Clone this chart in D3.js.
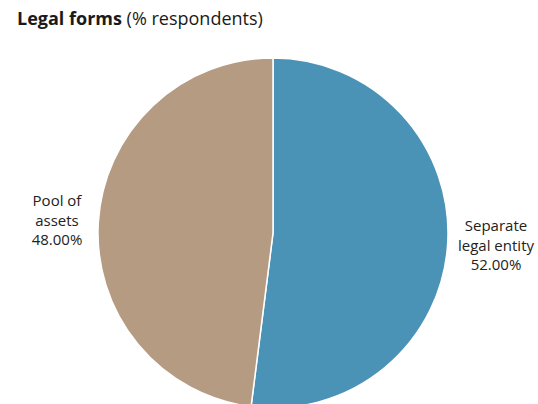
<!DOCTYPE html>
<html><head><meta charset="utf-8">
<script src="https://cdn.jsdelivr.net/npm/d3@7"></script>
<style>body{margin:0;background:#fff;}svg{display:block;}</style>
</head><body>
<script>
const categories = ["Separate legal entity", "Pool of assets"];
const values = [52.00, 48.00];
const labelLines = [["Separate", "legal entity"], ["Pool of", "assets"]];
const colors = ["#4b92b7", "#b69b83"];

const W = 538, H = 404;
const svg = d3.select("body").append("svg").attr("width", W).attr("height", H);
const font = "'Open Sans', 'Noto Sans', sans-serif";

const title = svg.append("text").attr("x", 17).attr("y", 25)
  .attr("font-family", font).attr("font-size", 18).attr("fill", "#1a1a1a");
title.append("tspan").attr("font-weight", "bold").text("Legal forms");
title.append("tspan").text(" (% respondents)");

const cx = 273, cy = 233, r = 175;
const pie = d3.pie().sort(null).value(d => d)(values);
const arc = d3.arc().innerRadius(0).outerRadius(r);
const g = svg.append("g").attr("transform", `translate(${cx},${cy})`);
g.selectAll("path").data(pie).join("path")
  .attr("d", arc).attr("fill", (d, i) => colors[i])
  .attr("stroke", "#fff").attr("stroke-width", 1.5);

const labelPos = [[496, 226], [57, 201]];
pie.forEach((d, i) => {
  const t = svg.append("text").attr("text-anchor", "middle")
    .attr("font-family", font).attr("font-size", 15).attr("fill", "#222");
  const lines = labelLines[i].concat([d3.format(".2f")(values[i]) + "%"]);
  lines.forEach((s, k) => {
    t.append("tspan").attr("x", labelPos[i][0]).attr("y", labelPos[i][1] + k * 19.5 + 5).text(s);
  });
});
</script>
</body></html>
